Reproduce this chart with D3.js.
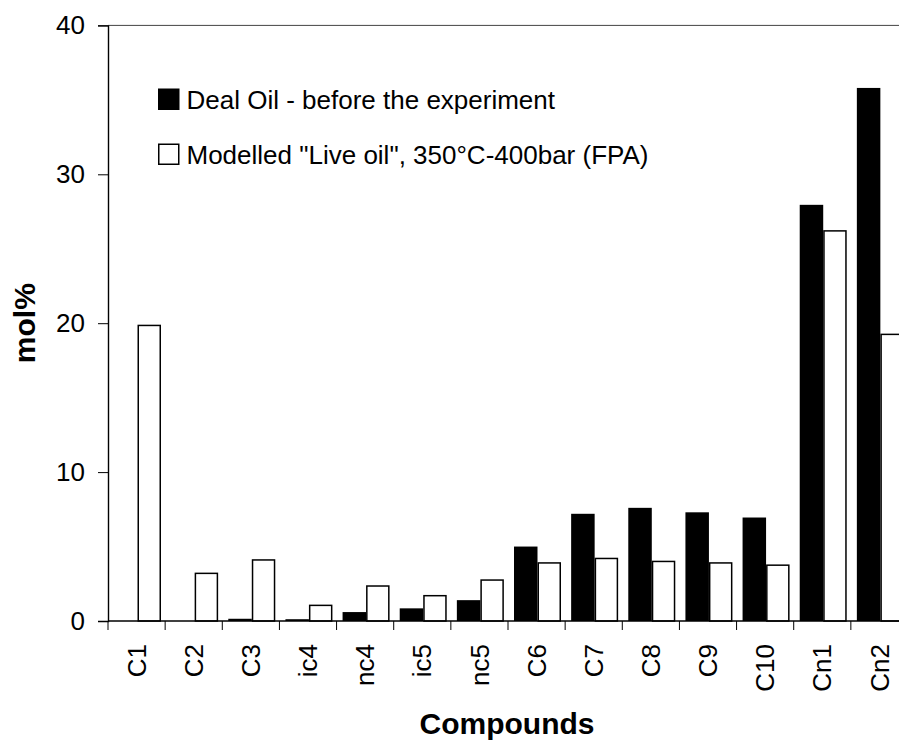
<!DOCTYPE html>
<html>
<head>
<meta charset="utf-8">
<script src="https://cdn.jsdelivr.net/npm/d3@7"></script>
<style>
  html, body { margin: 0; padding: 0; background: #fff; }
  svg { display: block; font-family: "Liberation Sans", Arial, sans-serif; }
</style>
</head>
<body>
<svg id="chart" width="899" height="741"></svg>
<script>
const categories = ["C1","C2","C3","ic4","nc4","ic5","nc5","C6","C7","C8","C9","C10","Cn1","Cn2"];
const seriesNames = ["Deal Oil - before the experiment", "Modelled \"Live oil\", 350°C-400bar (FPA)"];
const dealOil = [0, 0, 0.15, 0.12, 0.6, 0.85, 1.4, 5.0, 7.2, 7.6, 7.3, 6.95, 27.95, 35.8];
const liveOil = [19.9, 3.25, 4.15, 1.1, 2.4, 1.75, 2.8, 3.95, 4.25, 4.05, 3.95, 3.8, 26.25, 19.3];
const yTicks = [0, 10, 20, 30, 40];
const yTitle = "mol%";
const xTitle = "Compounds";

const svg = d3.select("#chart");
const plotLeft = 108, plotRight = 908, plotTop = 25.4, plotBottom = 621;

const x = d3.scaleBand().domain(categories).range([plotLeft, plotRight]).padding(0);
const step = x.step();
const xs = d3.scaleBand().domain([0, 1]).range([6, 53]).padding(0);
const y = d3.scaleLinear().domain([0, 40]).range([plotBottom, plotTop]);

// top border of plot area
svg.append("line")
  .attr("x1", plotLeft).attr("x2", plotRight)
  .attr("y1", y(40)).attr("y2", y(40))
  .attr("stroke", "#444").attr("stroke-width", 1);

// bars
const rows = categories.map((c, i) => ({ c, v: [dealOil[i], liveOil[i]] }));
const g = svg.append("g");
rows.forEach(r => {
  r.v.forEach((v, k) => {
    if (v <= 0) return;
    const rect = g.append("rect")
      .attr("x", x(r.c) + xs(k) + (k === 1 ? 0.75 : 0))
      .attr("width", xs.bandwidth() - (k === 1 ? 1.5 : 0))
      .attr("y", y(v) + (k === 1 ? 0.75 : 0))
      .attr("height", Math.max(0, plotBottom - y(v) - (k === 1 ? 0.75 : 0)));
    if (k === 0) rect.attr("fill", "#000");
    else rect.attr("fill", "#fff").attr("stroke", "#000").attr("stroke-width", 1.5);
  });
});

// y axis
const yAxis = d3.axisLeft(y).tickValues(yTicks).tickSize(10).tickPadding(13).tickFormat(d3.format("d"));
const ya = svg.append("g").attr("transform", `translate(${plotLeft},0)`).call(yAxis);
ya.select(".domain").attr("stroke", "#000").attr("stroke-width", 1.4);
ya.selectAll(".tick line").attr("stroke", "#000").attr("stroke-width", 1);
ya.selectAll(".tick text").attr("font-size", 26).attr("fill", "#000")
  .attr("font-family", "Liberation Sans, Arial, sans-serif");

// x axis: baseline + ticks between categories
svg.append("line").attr("x1", plotLeft).attr("x2", plotRight)
  .attr("y1", plotBottom).attr("y2", plotBottom)
  .attr("stroke", "#000").attr("stroke-width", 1.4);
const boundaries = categories.map(c => x(c)).concat([x(categories[categories.length - 1]) + step]);
svg.append("g").selectAll("line").data(boundaries).join("line")
  .attr("x1", d => d).attr("x2", d => d)
  .attr("y1", plotBottom).attr("y2", plotBottom + 9)
  .attr("stroke", "#000").attr("stroke-width", 1);

svg.append("g").selectAll("text").data(categories).join("text")
  .attr("transform", d => `translate(${x(d) + step / 2},${plotBottom + 23}) rotate(-90)`)
  .attr("text-anchor", "end")
  .attr("dy", "0.35em")
  .attr("font-size", 26)
  .attr("fill", "#000")
  .text(d => d);

// axis titles
svg.append("text")
  .attr("transform", `translate(35,${(plotTop + plotBottom) / 2}) rotate(-90)`)
  .attr("text-anchor", "middle")
  .attr("font-size", 30).attr("font-weight", "bold")
  .text(yTitle);
svg.append("text")
  .attr("x", (plotLeft + plotRight) / 2 - 1).attr("y", 734)
  .attr("text-anchor", "middle")
  .attr("font-size", 30).attr("font-weight", "bold")
  .text(xTitle);

// legend
const legend = svg.append("g");
const legendY = [99, 154];
seriesNames.forEach((name, k) => {
  legend.append("rect")
    .attr("x", k === 0 ? 158 : 158.75).attr("y", legendY[k] - 10.5 + (k === 0 ? 0 : 0.75))
    .attr("width", k === 0 ? 21.5 : 20).attr("height", k === 0 ? 21.5 : 20)
    .attr("fill", k === 0 ? "#000" : "#fff")
    .attr("stroke", k === 0 ? "none" : "#000").attr("stroke-width", 1.5);
  legend.append("text")
    .attr("x", 186.5).attr("y", legendY[k] + 10)
    .attr("font-size", 26).attr("fill", "#000")
    .text(name);
});
</script>
</body>
</html>
